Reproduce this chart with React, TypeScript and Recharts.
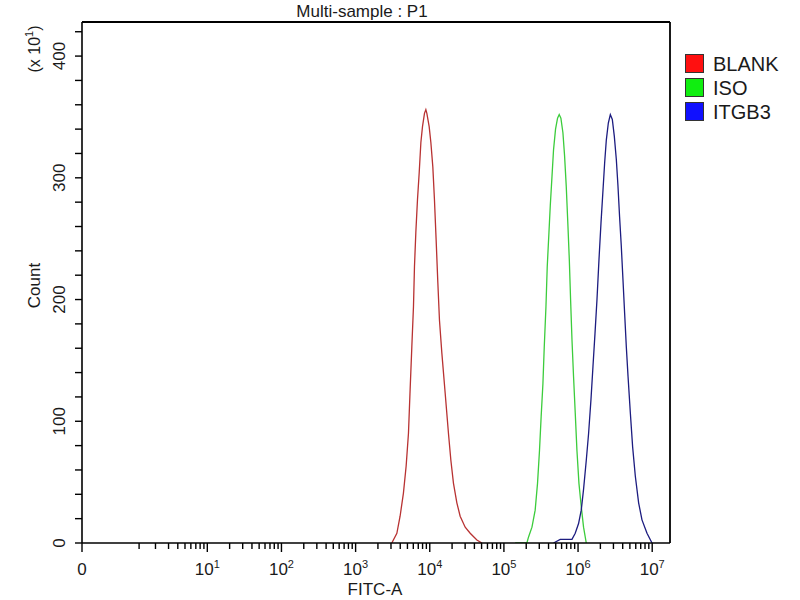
import React from 'react';
import { LineChart, Line, XAxis, YAxis, Legend, ReferenceLine } from 'recharts';

// ---- data (FITC-A channel value, count in units of x10^1) ----
const BLANK_FITC = [3076, 3600, 3980, 4415, 4800, 5160, 5435, 5730, 6030, 6220, 6490, 6830, 7200, 7590, 7980, 8490, 8860, 9140, 9820, 10350, 11000, 11570, 12190, 12850, 13520, 14560, 16140, 17880, 19260, 20890, 23200, 25700, 30050, 35100, 43200, 50500];
const BLANK_COUNT = [0, 8, 22, 41, 63, 90, 126, 161, 194, 227, 255, 282, 304, 329, 342, 353, 356, 353, 342, 329, 309, 282, 249, 214, 183, 156, 123, 90, 68, 49, 33, 22, 13, 8, 2.5, 0];

const ISO_FITC = [142000, 204000, 215000, 239000, 264000, 284000, 302000, 318000, 336000, 350000, 369000, 384000, 405000, 422000, 445000, 467000, 497000, 529000, 557000, 587000, 625000, 658000, 693000, 731000, 762000, 793000, 828000, 869000, 916000, 966000, 1028000, 1104000, 1186000, 1291000];
const ISO_COUNT = [0, 0, 5, 13, 27, 49, 76, 104, 131, 161, 194, 227, 255, 277, 301, 323, 340, 349, 352, 349, 337, 318, 293, 260, 233, 200, 167, 137, 107, 76, 49, 30, 13, 0];

const ITGB3_FITC = [467000, 575000, 828000, 916000, 1016000, 1104000, 1186000, 1291000, 1387000, 1494000, 1589000, 1692000, 1800000, 1916000, 2039000, 2170000, 2282000, 2405000, 2560000, 2724000, 2898000, 3084000, 3282000, 3455000, 3631000, 3828000, 4036000, 4246000, 4477000, 4720000, 5070000, 5445000, 5916000, 6560000, 7280000, 8510000, 9940000];
const ITGB3_COUNT = [0, 3, 3, 8, 16, 27, 44, 68, 90, 118, 145, 172, 200, 233, 263, 290, 312, 331, 345, 352, 348, 334, 315, 293, 268, 244, 216, 189, 161, 137, 107, 79, 55, 33, 19, 8, 0];

const SERIES_NAMES = ['BLANK', 'ISO', 'ITGB3'];
const LINE_COLORS = ['#b83232', '#3ccc3c', '#1c1c80'];
const SWATCH_COLORS = ['#ff1010', '#10ee10', '#1010ff'];

// ---- axis definitions (log-decade display units; "0" sits left of 10^1) ----
const X_ZERO_POS = -0.69;
const X_MAX = 7.24;
const X_MAJOR_POS = [X_ZERO_POS, 1, 2, 3, 4, 5, 6, 7];
const X_MAJOR_LABELS = ['0', '1', '2', '3', '4', '5', '6', '7'];
const X_FIRST_MINOR = 0.08;
const DECADES = [0, 1, 2, 3, 4, 5, 6];
const MINOR_MULTS = [2, 3, 4, 5, 6, 7, 8, 9];

const Y_MAX = 428;
const Y_TICKS = [0, 20, 40, 60, 80, 100, 120, 140, 160, 180, 200, 220, 240, 260, 280, 300, 320, 340, 360, 380, 400, 420];
const Y_LABELED = [0, 100, 200, 300, 400];

const toT = (v: number) => (v > 0 ? Math.log10(v) : X_ZERO_POS);
const build = (xs: number[], cs: number[]) => xs.map((v, i) => ({ t: toT(v), c: cs[i] }));

const blankData = build(BLANK_FITC, BLANK_COUNT);
const isoData = build(ISO_FITC, ISO_COUNT);
const itgb3Data = build(ITGB3_FITC, ITGB3_COUNT);

const minorTicks = [X_FIRST_MINOR].concat(
  DECADES.flatMap((d) => MINOR_MULTS.map((k) => d + Math.log10(k)))
);
const allXTicks = [...X_MAJOR_POS, ...minorTicks].sort((a, b) => a - b);

const FONT = '"Liberation Sans", Arial, Helvetica, sans-serif';

const XTick = (props: any) => {
  const { x, y, payload } = props;
  const v = payload.value as number;
  const mi = X_MAJOR_POS.findIndex((m) => Math.abs(m - v) < 1e-6);
  const major = mi >= 0;
  return (
    <g>
      <line x1={x} y1={y} x2={x} y2={y + (major ? 9 : 6)} stroke="#000" strokeWidth={1.4} />
      {major && mi === 0 && (
        <text x={x} y={y + 32} textAnchor="middle" fontSize={17} fill="#1a1a1a">0</text>
      )}
      {major && mi > 0 && (
        <text x={x} y={y + 32} textAnchor="middle" fontSize={17} fill="#1a1a1a">
          10<tspan dy={-7} fontSize={11}>{X_MAJOR_LABELS[mi]}</tspan>
        </text>
      )}
    </g>
  );
};

const YTick = (props: any) => {
  const { x, y, payload } = props;
  const v = payload.value as number;
  if (!Y_LABELED.includes(v)) return <g />;
  const bx = x - 10;
  return (
    <text x={bx} y={y} transform={`rotate(-90 ${bx} ${y})`} textAnchor="middle" fontSize={17} fill="#1a1a1a">
      {v}
    </text>
  );
};

const renderLegend = (props: any) => {
  const payload = props.payload || [];
  return (
    <div style={{ fontFamily: FONT }}>
      {payload.map((p: any, i: number) => (
        <div key={i} style={{ display: 'flex', alignItems: 'flex-start', height: 24 }}>
          <div
            style={{
              width: 17,
              height: 17,
              background: SWATCH_COLORS[i],
              border: '1px solid #333',
              marginRight: 9,
            }}
          />
          <span style={{ fontSize: 20, lineHeight: '20px', color: '#1a1a1a' }}>{p.value}</span>
        </div>
      ))}
    </div>
  );
};

export default function App() {
  return (
    <div
      style={{
        position: 'absolute',
        left: 0,
        top: 0,
        width: 800,
        height: 600,
        background: '#fff',
        fontFamily: FONT,
      }}
    >
      <LineChart width={800} height={600} margin={{ top: 22, right: 130, bottom: 0, left: 0 }}>
        <XAxis
          dataKey="t"
          type="number"
          domain={[X_ZERO_POS, X_MAX]}
          allowDataOverflow
          ticks={allXTicks}
          interval={0}
          tickLine={false}
          tickSize={0}
          tickMargin={0}
          tick={<XTick />}
          height={57}
          axisLine={{ stroke: '#000', strokeWidth: 1.6 }}
          label={{
            content: (p: any) => {
              const vb = p.viewBox;
              return (
                <text x={vb.x + vb.width / 2 - 1} y={vb.y + 52} textAnchor="middle" fontSize={17} fill="#1a1a1a">
                  FITC-A
                </text>
              );
            },
          }}
        />
        <YAxis
          type="number"
          domain={[0, Y_MAX]}
          allowDataOverflow
          ticks={Y_TICKS}
          interval={0}
          width={82}
          tickSize={7}
          tickMargin={0}
          tickLine={{ stroke: '#000', strokeWidth: 1.4 }}
          axisLine={{ stroke: '#000', strokeWidth: 1.6 }}
          tick={<YTick />}
          label={{
            content: (p: any) => {
              const vb = p.viewBox;
              const bx = 40;
              const cy = vb.y + vb.height / 2 + 3;
              const uy = vb.y + 27;
              return (
                <g>
                  <text x={bx} y={cy} transform={`rotate(-90 ${bx} ${cy})`} textAnchor="middle" fontSize={17} fill="#1a1a1a">
                    Count
                  </text>
                  <text x={bx} y={uy} transform={`rotate(-90 ${bx} ${uy})`} textAnchor="middle" fontSize={16} fill="#1a1a1a">
                    (x 10<tspan dy={-7} fontSize={11}>1</tspan><tspan dy={7}>)</tspan>
                  </text>
                </g>
              );
            },
          }}
        />
        <ReferenceLine
          y={Y_MAX}
          stroke="#000"
          strokeWidth={1.8}
          label={{
            content: (p: any) => {
              const vb = p.viewBox;
              return (
                <text x={vb.x + vb.width / 2 - 14} y={vb.y - 5} textAnchor="middle" fontSize={17} fill="#1a1a1a">
                  Multi-sample : P1
                </text>
              );
            },
          }}
        />
        <ReferenceLine x={X_MAX} stroke="#000" strokeWidth={1.8} />
        <Legend
          layout="vertical"
          align="center"
          verticalAlign="middle"
          content={renderLegend}
          wrapperStyle={{ position: 'absolute', left: 685, top: 54, width: 110, height: 80 }}
        />
        <Line data={blankData} dataKey="c" name={SERIES_NAMES[0]} type="linear" stroke={LINE_COLORS[0]} strokeWidth={1.3} dot={false} isAnimationActive={false} />
        <Line data={isoData} dataKey="c" name={SERIES_NAMES[1]} type="linear" stroke={LINE_COLORS[1]} strokeWidth={1.3} dot={false} isAnimationActive={false} />
        <Line data={itgb3Data} dataKey="c" name={SERIES_NAMES[2]} type="linear" stroke={LINE_COLORS[2]} strokeWidth={1.3} dot={false} isAnimationActive={false} />
      </LineChart>
    </div>
  );
}
